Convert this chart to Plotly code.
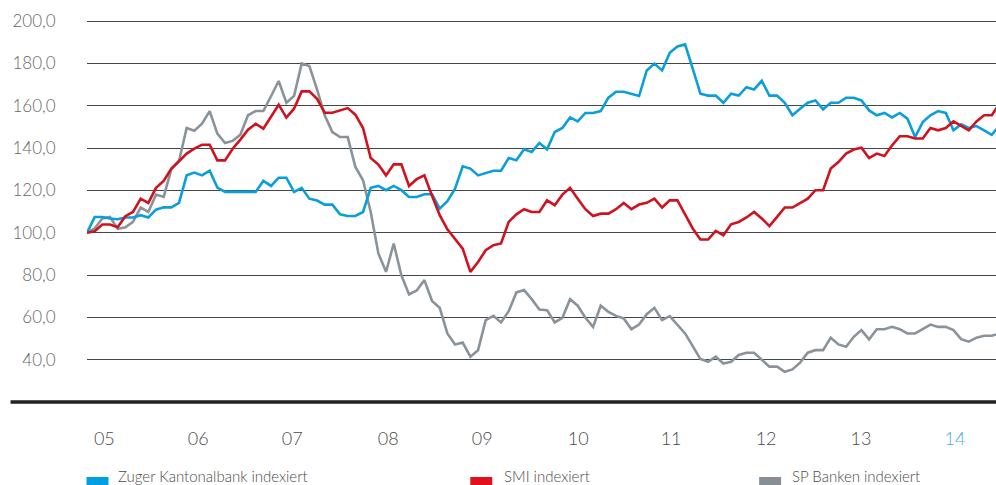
import plotly.graph_objects as go

# ---------------- data ----------------
zkb = [100, 107.4, 107.4, 106.7, 106.4, 107.2, 107.2, 108.3, 107.2, 110.9,
       112, 112, 114.1, 127.1, 128.4, 127.1, 129.3, 121.3, 119.3, 119.3,
       119.3, 119.3, 119.3, 124.5, 122.1, 126, 126, 119.3, 121.2, 116.1,
       115.2, 113.3, 113.3, 108.7, 107.9, 107.9, 109.8, 121.2, 122.1, 120.1,
       122.1, 120.1, 116.9, 116.9, 118.2, 118.2, 111.4, 114.9, 120.8, 131.4,
       130.3, 127.1, 128.2, 129.3, 129.3, 135.3, 134.2, 139.4, 138.2, 142.4,
       139.4, 147.6, 149.5, 154.5, 152.6, 156.6, 156.6, 157.5, 163.8, 166.6,
       166.6, 165.7, 164.6, 176.7, 179.9, 176.7, 185, 188, 189, 177.5,
       165.7, 164.8, 164.8, 161.4, 165.7, 164.8, 168.8, 167.7, 171.8, 164.8,
       164.8, 161.4, 155.5, 158.6, 161.4, 162.5, 158.3, 161.4, 161.4, 163.8,
       163.8, 162.5, 157.8, 155.5, 156.6, 154.5, 156.6, 153.9, 145.2, 152.3,
       155.5, 157.5, 156.6, 148.4, 151.2, 149.5, 150.4, 148.4, 146.3, 150.5]

smi = [100, 100.7, 103.9, 103.9, 102.6, 107.8, 109.8, 116.1, 114.1, 121.2,
       124.5, 130.3, 133.8, 137.4, 139.7, 141.6, 141.6, 134.2, 134.2, 139.7,
       144, 148.7, 151.5, 149.2, 154.8, 160.5, 154.4, 158.6, 166.8, 166.8,
       163.3, 156.7, 156.7, 157.8, 158.9, 155.8, 149.5, 135.3, 132.2, 127.1,
       132.3, 132.3, 122.1, 125.3, 127.1, 117.5, 108.3, 101.6, 97.3, 92.5,
       81.5, 86.2, 91.7, 94.1, 94.9, 105.1, 108.7, 111.1, 109.8, 109.8,
       115.3, 113, 118, 121.2, 116.1, 111.1, 107.9, 109, 109, 111.1,
       114.1, 111.1, 113.3, 114.1, 116.1, 111.9, 115.3, 115.3, 108.7, 102,
       96.8, 96.8, 100.9, 98.8, 104, 105.1, 107.2, 109.8, 106.7, 103.1,
       107.5, 111.9, 111.9, 114.1, 116.1, 120.1, 120.1, 130.3, 133.4, 137.4,
       139.3, 140.2, 135.3, 137.4, 136.3, 141.3, 145.6, 145.6, 144.5, 144.5,
       149.5, 148.4, 149.5, 152.6, 150.4, 148.4, 152.6, 155.5, 155.5, 161]

sp_banken = [100, 102, 106.7, 107.4, 101.8, 102.6, 105.1, 111.9, 109.8, 118,
             116.9, 130, 133.9, 149.5, 148.2, 151.5, 157.5, 146.8, 142.4, 143.4,
             146.3, 155.5, 157.5, 157.5, 164.5, 171.7, 161.4, 164.6, 180, 178.8,
             167.7, 155.5, 147.6, 145.2, 145.2, 131.1, 124.8, 109.8, 90.2, 81.5,
             94.9, 79.9, 70.8, 72.7, 77.6, 67.7, 64.5, 52.4, 47.2, 48.1,
             41.4, 44.5, 58.7, 60.7, 57.6, 62.9, 71.8, 72.9, 68.6, 63.7,
             63.4, 57.6, 59.8, 68.6, 65.5, 59.8, 55.5, 65.5, 62.6, 60.7,
             59.5, 54.4, 56.6, 61.5, 64.5, 58.7, 60.6, 56.3, 52.4, 46.4,
             40.3, 39, 41.4, 38.2, 39, 42.2, 43.3, 43.3, 39.8, 36.7,
             36.7, 34.3, 35.4, 38.6, 43.3, 44.5, 44.5, 50.4, 47.2, 46.1,
             50.8, 54, 49.6, 54.4, 54.4, 55.5, 54.4, 52.4, 52.4, 54.4,
             56.6, 55.5, 55.5, 54, 49.7, 48.5, 50.4, 51.3, 51.3, 52.4]

periods = list(range(len(zkb)))  # monthly observations

year_labels = ["05", "06", "07", "08", "09", "10", "11", "12", "13", "14"]
year_positions = [2.26, 14.51, 26.77, 39.28, 51.54, 64.06, 76.18, 88.57, 100.95, 113.21]
y_ticks = [40, 60, 80, 100, 120, 140, 160, 180, 200]

series_names = ["Zuger Kantonalbank indexiert", "SMI indexiert", "SP Banken indexiert"]

# ---------------- styles ----------------
C_BLUE = "#0a9fdc"
C_RED = "#d0121f"
C_GRAY = "#8a9399"
SW_BLUE = "#009fe3"
SW_RED = "#e2101c"
SW_GRAY = "#878f95"
FONT = "Lato, 'Open Sans', sans-serif"

W, H = 996, 485
ML, MR, MT, MB = 86.5, 0, 19, 83
PW, PH = W - ML - MR, H - MT - MB


def px_x(x):
    return (x - ML) / PW


def px_y(y):
    return (H - MB - y) / PH


fig = go.Figure()
fig.add_trace(go.Scatter(x=periods, y=sp_banken, mode="lines", name=series_names[2],
                         line=dict(color=C_GRAY, width=2.6)))
fig.add_trace(go.Scatter(x=periods, y=zkb, mode="lines", name=series_names[0],
                         line=dict(color=C_BLUE, width=2.6)))
fig.add_trace(go.Scatter(x=periods, y=smi, mode="lines", name=series_names[1],
                         line=dict(color=C_RED, width=2.6)))

ticktext = year_labels[:-1] + ["<span style='color:#3fb0e6'>%s</span>" % year_labels[-1]]

fig.update_layout(
    width=W, height=H, autosize=False,
    margin=dict(l=ML, r=MR, t=MT, b=MB, pad=0),
    paper_bgcolor="white", plot_bgcolor="white",
    showlegend=False,
    separators=",.",
    font=dict(family=FONT, color="#5a5a5a"),
    xaxis=dict(range=[0, 118.55], showgrid=False, zeroline=False, showline=False,
               tickmode="array", tickvals=year_positions, ticktext=ticktext,
               ticks="outside", ticklen=20, tickcolor="rgba(0,0,0,0)",
               tickfont=dict(size=18, color="#4a4a4a", family=FONT, weight=300)),
    yaxis=dict(range=[20, 201], showgrid=True, gridcolor="#454545", gridwidth=1.2,
               zeroline=False, showline=False,
               tickmode="array", tickvals=y_ticks, tickformat=".1f",
               ticks="outside", ticklen=27, tickcolor="rgba(0,0,0,0)",
               tickfont=dict(size=17, color="#666666", family=FONT, weight=300)),
)

# thick baseline extending left of plot area
fig.add_shape(type="line", xref="paper", yref="paper",
              x0=px_x(10), x1=1, y0=0, y1=0,
              line=dict(color="#222222", width=3.5))

# custom legend along the bottom
legend_items = [
    (series_names[0], SW_BLUE, 86, 116),
    (series_names[1], SW_RED, 470, 502),
    (series_names[2], SW_GRAY, 759, 790),
]
for name, col, sx, tx in legend_items:
    fig.add_shape(type="rect", xref="paper", yref="paper",
                  x0=px_x(sx), x1=px_x(sx + 22), y0=px_y(497), y1=px_y(477),
                  fillcolor=col, line=dict(width=0))
    fig.add_annotation(xref="paper", yref="paper", x=px_x(tx), y=px_y(465),
                       xanchor="left", yanchor="top", showarrow=False,
                       text=name, font=dict(size=15, color="#4a4a4a", family=FONT, weight=300))

fig.write_html("out.html", config={"displayModeBar": False},
               post_script="document.body.style.margin='0';document.body.style.overflow='hidden';")
